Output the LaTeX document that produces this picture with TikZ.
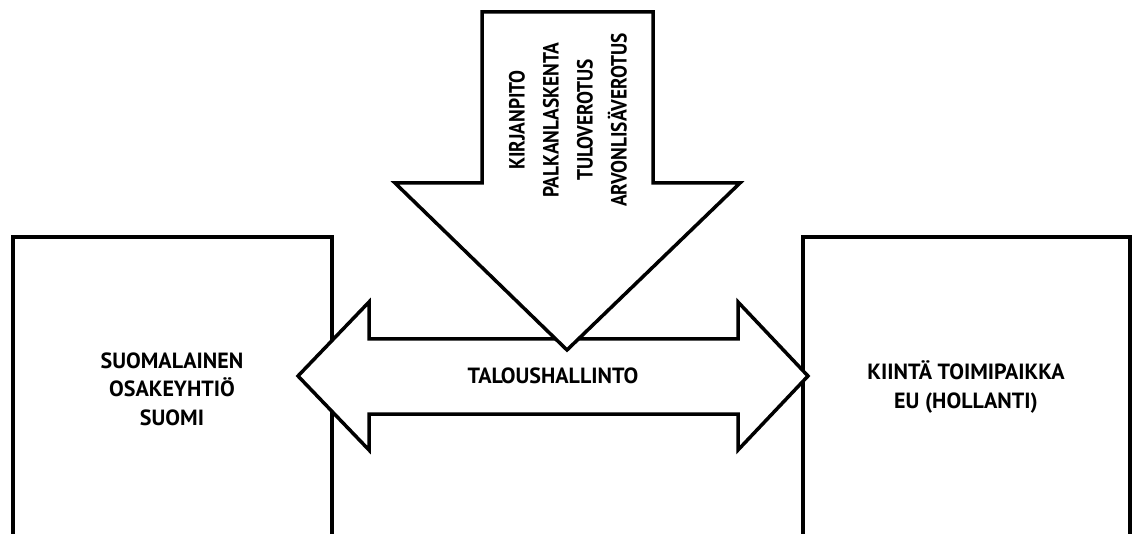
\documentclass[tikz,border=0pt]{standalone}
\usepackage{fontspec}
\setmainfont{PT Sans}
\newfontfamily\narrowfont[FakeStretch=0.88]{PT Sans}
\begin{document}
\begin{tikzpicture}[x=1pt,y=-1pt,
  outline/.style={draw=black,line width=3.5pt,line join=miter,fill=white},
  lbl/.style={font=\bfseries\fontsize{22}{28.5}\selectfont,align=center,inner sep=0pt},
  vlbl/.style={font=\narrowfont\bfseries\fontsize{22}{34}\selectfont,align=center,inner sep=0pt,rotate=90}]
\useasboundingbox (0,0) rectangle (1132,534);
% boxes
\draw[outline] (13,540) -- (13,237) -- (332,237) -- (332,540);
\draw[outline] (803,540) -- (803,237) -- (1130,237) -- (1130,540);
% double arrow
\draw[outline] (298,376) -- (369,302) -- (369,339) -- (738,339) -- (738,302) -- (808,376)
  -- (738,450) -- (738,414) -- (369,414) -- (369,450) -- cycle;
% down arrow
\draw[outline] (482,12) -- (653,12) -- (653,183) -- (740,183) -- (567,350)
  -- (395,183) -- (482,183) -- cycle;
% labels
\node[lbl] (fi) at (172,389) {SUOMALAINEN\\OSAKEYHTIÖ\\SUOMI};
\node[lbl] (eu) at (966,387) {KIINTÄ TOIMIPAIKKA\\EU (HOLLANTI)};
\node[lbl] (th) at (553,376) {TALOUSHALLINTO};
\node[vlbl] (svc) at (568,120) {KIRJANPITO\\PALKANLASKENTA\\TULOVEROTUS\\ARVONLISÄVEROTUS};
\end{tikzpicture}
\end{document}
